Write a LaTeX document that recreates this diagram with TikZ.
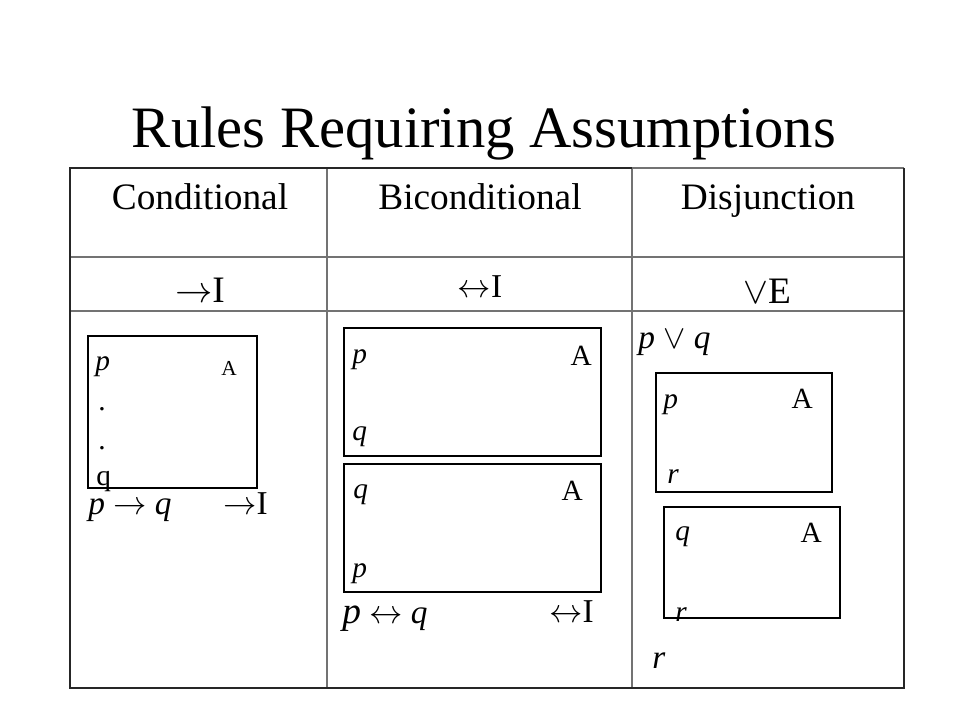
\documentclass[tikz,border=0pt]{standalone}
\usepackage{fix-cm}
\usepackage{fontspec}
\setmainfont{Liberation Serif}
\newcommand{\impl}{$\rightarrow$}
\newcommand{\biimpl}{$\leftrightarrow$}
\newcommand{\disj}{$\vee$}
\begin{document}
\begin{tikzpicture}[x=0.75pt,y=-0.75pt]
  \tikzstyle{txt}=[inner sep=0pt]
  \tikzstyle{title}=[txt,font=\fontsize{44}{50}\selectfont]
  \tikzstyle{head}=[txt,font=\fontsize{28}{34}\selectfont]
  \tikzstyle{med}=[txt,font=\fontsize{25}{30}\selectfont]
  \tikzstyle{small}=[txt,font=\fontsize{22}{26}\selectfont]
  \tikzstyle{tiny}=[txt,font=\fontsize{16}{19}\selectfont]
  \tikzstyle{grid}=[draw=black!55,line width=0.8pt]
  \tikzstyle{frame}=[draw=black!85,line width=1.6pt]
  \tikzstyle{proofbox}=[draw,line width=0.9pt]
  \useasboundingbox (0,0) rectangle (960,720);
  % title
  \node[title,anchor=base] (title) at (484,148) {Rules Requiring Assumptions};
  % table
  \coordinate (TL) at (70,168);
  \coordinate (TM) at (632,168);
  \coordinate (TR) at (904,168);
  \coordinate (BL) at (70,688);
  \coordinate (BR) at (904,688);
  \draw[grid] (70,257) -- (904,257);
  \draw[grid] (70,311) -- (904,311);
  \draw[grid] (327,168) -- (327,688);
  \draw[grid] (632,168) -- (632,688);
  \draw[grid] (TM) -- (TR);
  \draw[frame] (TM) -- (TL) -- (BL) -- (BR) -- (TR);
  % headers
  \node[head,anchor=base] (condhead) at (200,210) {Conditional};
  \node[head,anchor=base] (bicondhead) at (480,210) {Biconditional};
  \node[head,anchor=base] (disjhead) at (768,210) {Disjunction};
  \node[head,anchor=base] (condrule) at (200,302) {\impl I};
  \node[med,anchor=base] (bicondrule) at (480,297) {\biimpl I};
  \node[head,anchor=base] (disjrule) at (767,303) {\disj E};
  % conditional
  \draw[proofbox] (88,336) rectangle (257,488);
  \node[small,anchor=base west] (cp) at (95,370) {\textit{p}};
  \node[tiny,anchor=base east] (cA) at (237,375) {A};
  \node[small,anchor=base west] (cdot1) at (98,410) {.};
  \node[small,anchor=base west] (cdot2) at (98,449) {.};
  \node[small,anchor=base west] (cq) at (96,485) {q};
  \node[med,anchor=base west] (cconc) at (88,514) {\textit{p} \impl{} \textit{q}};
  \node[med,anchor=base east] (crule) at (268,514) {\impl I};
  % biconditional
  \draw[proofbox] (344,328) rectangle (601,456);
  \draw[proofbox] (344,464) rectangle (601,592);
  \node[small,anchor=base west] (bp1) at (352,363) {\textit{p}};
  \node[small,anchor=base east] (bA1) at (592,365) {A};
  \node[small,anchor=base west] (bq1) at (352,440) {\textit{q}};
  \node[small,anchor=base west] (bq2) at (353,498) {\textit{q}};
  \node[small,anchor=base east] (bA2) at (583,500) {A};
  \node[small,anchor=base west] (bp2) at (352,577) {\textit{p}};
  \node[med,anchor=base west] (bconc) at (342,623)
    {{\fontsize{28}{34}\selectfont\textit{p}} \biimpl{} \textit{q}};
  \node[med,anchor=base east] (brule) at (594,622) {\biimpl I};
  % disjunction
  \node[med,anchor=base west] (dprem) at (638,348) {\textit{p} \disj{} \textit{q}};
  \draw[proofbox] (656,373) rectangle (832,492);
  \draw[proofbox] (664,507) rectangle (840,618);
  \node[small,anchor=base west] (dp) at (663,408) {\textit{p}};
  \node[small,anchor=base east] (dA1) at (813,408) {A};
  \node[small,anchor=base west] (dr1) at (667,483) {\textit{r}};
  \node[small,anchor=base west] (dq) at (675,540) {\textit{q}};
  \node[small,anchor=base east] (dA2) at (822,542) {A};
  \node[small,anchor=base west] (dr2) at (675,621) {\textit{r}};
  \node[med,anchor=base west] (dconc) at (652,668) {\textit{r}};
\end{tikzpicture}
\end{document}
